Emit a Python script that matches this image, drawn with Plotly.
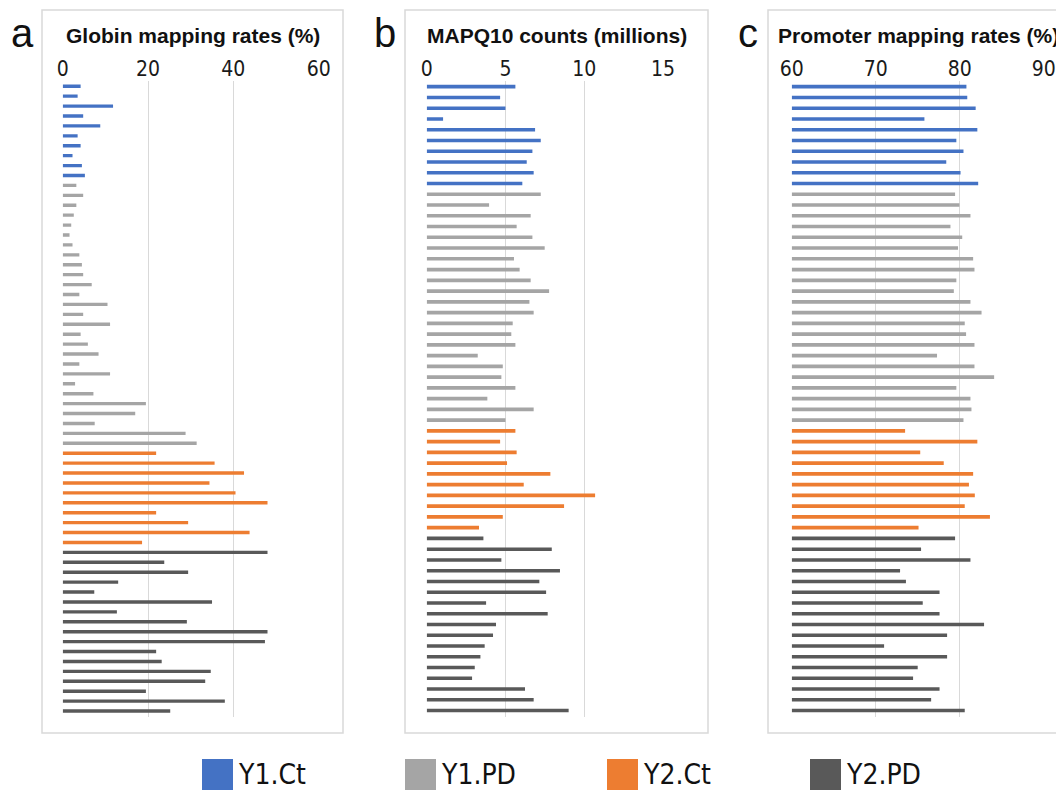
import plotly.graph_objects as go

W, H = 1064, 790
PAGE_OFFSET = 8  # default page body margin in the browser

groups = ["Y1.Ct", "Y1.PD", "Y2.Ct", "Y2.PD"]
group_colors = ["#4472C4", "#A5A5A5", "#ED7D31", "#595959"]

# Panel a: Globin mapping rates (%)
globin_y1ct = [4.2, 3.5, 11.8, 4.8, 8.8, 3.5, 4.2, 2.3, 4.5, 5.2]
globin_y1pd = [3.2, 4.8, 3.2, 2.6, 2.0, 1.6, 2.3, 3.9, 4.5, 4.8, 6.8, 3.9, 10.5, 4.8,
               11.1, 4.2, 5.9, 8.4, 3.9, 11.1, 2.9, 7.2, 19.5, 17.0, 7.5, 28.8, 31.4]
globin_y2ct = [21.9, 35.6, 42.5, 34.4, 40.5, 48.0, 21.9, 29.4, 43.8, 18.6]
globin_y2pd = [48.0, 23.8, 29.4, 13.0, 7.4, 35.0, 12.7, 29.1, 48.0, 47.4, 21.9, 23.2,
               34.7, 33.4, 19.5, 38.0, 25.2]

# Panel b: MAPQ10 counts (millions)
mapq_y1ct = [5.63, 4.66, 5.0, 1.04, 6.88, 7.24, 6.71, 6.35, 6.79, 6.07]
mapq_y1pd = [7.24, 3.96, 6.60, 5.71, 6.71, 7.49, 5.54, 5.90, 6.60, 7.77, 6.52, 6.79,
             5.46, 5.37, 5.63, 3.24, 4.83, 4.74, 5.63, 3.85, 6.79, 5.0]
mapq_y2ct = [5.63, 4.66, 5.71, 5.10, 7.85, 6.16, 10.69, 8.72, 4.83, 3.32]
mapq_y2pd = [3.6, 7.94, 4.74, 8.46, 7.15, 7.58, 3.77, 7.68, 4.40, 4.21, 3.68, 3.41,
             3.05, 2.88, 6.24, 6.79, 9.01]

# Panel c: Promoter mapping rates (%)
prom_y1ct = [80.8, 80.9, 81.9, 75.8, 82.1, 79.6, 80.45, 78.4, 80.1, 82.2]
prom_y1pd = [79.45, 79.97, 81.28, 78.9, 80.3, 79.8, 81.6, 81.76, 79.6, 79.3, 81.28, 82.6,
             80.6, 80.76, 81.76, 77.3, 81.76, 84.1, 79.6, 81.28, 81.4, 80.45]
prom_y2ct = [73.5, 82.1, 75.3, 78.1, 81.6, 81.1, 81.8, 80.6, 83.6, 75.1]
prom_y2pd = [79.45, 75.4, 81.28, 72.9, 73.6, 77.6, 75.6, 77.6, 82.9, 78.5, 71.0, 78.5,
             75.0, 74.45, 77.6, 76.6, 80.6]

panel_titles = ["Globin mapping rates (%)", "MAPQ10 counts (millions)", "Promoter mapping rates (%)"]
panel_letters = ["a", "b", "c"]
x_ranges = [[0, 60], [0, 15], [60, 90]]
x_ticks = [[0, 20, 40, 60], [0, 5, 10, 15], [60, 70, 80, 90]]

panels = [
    [globin_y1ct, globin_y1pd, globin_y2ct, globin_y2pd],
    [mapq_y1ct, mapq_y1pd, mapq_y2ct, mapq_y2pd],
    [prom_y1ct, prom_y1pd, prom_y2ct, prom_y2pd],
]

# layout geometry (screen pixels of the target picture)
x_dom_px = [(62.7, 318.7), (426.7, 663.0), (791.7, 1043.7)]
box_px = [(42, 343), (405, 708), (768, 1080)]
box_top, box_bot = 10, 733
plot_top, plot_bot = 81, 717


def px_x(v):
    return (v - PAGE_OFFSET) / W


def px_y(v):
    return 1 - (v - PAGE_OFFSET) / H


NARROW = "Liberation Sans Narrow, Arial Narrow, DejaVu Sans Condensed, sans-serif"
SANS = "Liberation Sans, Arial, Helvetica, sans-serif"

fig = go.Figure()
layout = dict(
    width=W, height=H, margin=dict(l=0, r=0, t=0, b=0, pad=0, autoexpand=False),
    paper_bgcolor="white", plot_bgcolor="white", showlegend=False,
)

for p, series in enumerate(panels):
    sfx = "" if p == 0 else str(p + 1)
    idx = 0
    n_total = sum(len(s) for s in series)
    for g, vals in enumerate(series):
        ys = list(range(idx, idx + len(vals)))
        idx += len(vals)
        base = x_ranges[p][0]
        fig.add_trace(go.Bar(
            x=[v - base for v in vals], base=base, y=ys, orientation="h",
            width=0.34, marker=dict(color=group_colors[g], line=dict(width=0)),
            name=groups[g], xaxis="x" + sfx, yaxis="y" + sfx,
            hovertemplate=groups[g] + ": %{customdata}<extra></extra>",
            customdata=vals,
        ))
    layout["xaxis" + sfx] = dict(
        domain=[px_x(x_dom_px[p][0]), px_x(x_dom_px[p][1])],
        range=x_ranges[p], tickvals=x_ticks[p], side="top",
        anchor="y" + sfx, showgrid=True, gridcolor="#d9d9d9", gridwidth=1.2,
        zeroline=False, showline=False, ticks="", automargin=False,
        tickfont=dict(family=NARROW, size=21, color="#1a1a1a"),
        fixedrange=True,
    )
    layout["yaxis" + sfx] = dict(
        domain=[px_y(plot_bot), px_y(plot_top)],
        range=[n_total - 0.4, -0.53], anchor="x" + sfx,
        showgrid=False, zeroline=False, showline=False, showticklabels=False,
        ticks="", fixedrange=True, automargin=False,
    )

fig.update_layout(**layout)

shapes = []
annotations = []
for p in range(3):
    x0, x1 = box_px[p]
    shapes.append(dict(type="rect", xref="paper", yref="paper",
                       x0=px_x(x0), x1=px_x(x1), y0=px_y(box_bot), y1=px_y(box_top),
                       line=dict(color="#d9d9d9", width=1.5), fillcolor="rgba(0,0,0,0)"))
    cx = (x0 + min(x1, 1068)) / 2
    annotations.append(dict(text="<b>" + panel_titles[p] + "</b>", xref="paper", yref="paper",
                            x=px_x(cx), y=px_y(36), xanchor="center", yanchor="middle",
                            showarrow=False, font=dict(family=SANS, size=21, color="#111")))
    annotations.append(dict(text=panel_letters[p], xref="paper", yref="paper",
                            x=px_x(x0 - 20), y=px_y(33), xanchor="center", yanchor="middle",
                            showarrow=False, font=dict(family=SANS, size=40, color="#111")))

# legend (manual, large swatches)
leg_x = [202, 405, 607, 810]
for g in range(4):
    shapes.append(dict(type="rect", xref="paper", yref="paper",
                       x0=px_x(leg_x[g]), x1=px_x(leg_x[g] + 31),
                       y0=px_y(795), y1=px_y(759),
                       line=dict(width=0), fillcolor=group_colors[g]))
    annotations.append(dict(text=groups[g], xref="paper", yref="paper",
                            x=px_x(leg_x[g] + 34), y=px_y(774), xanchor="left", yanchor="middle",
                            showarrow=False, font=dict(family=NARROW, size=28, color="#111")))

fig.update_layout(shapes=shapes, annotations=annotations)
fig.write_html("out.html")
